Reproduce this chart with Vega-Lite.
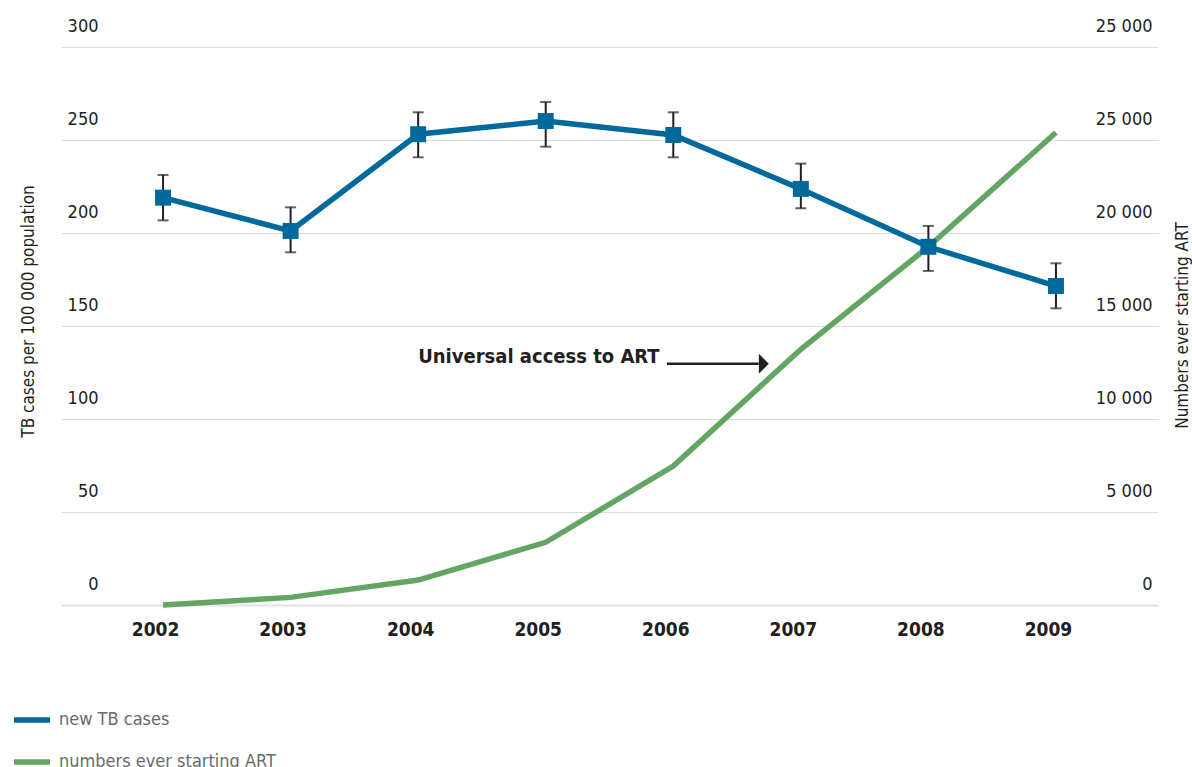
{
  "$schema": "https://vega.github.io/schema/vega-lite/v6.json",
  "width": 1097,
  "height": 558,
  "autosize": {"type": "none"},
  "padding": {"left": 61, "top": 47, "right": 34, "bottom": 162},
  "background": "white",
  "config": {
    "view": {"stroke": null},
    "font": "DejaVu Sans Condensed",
    "axis": {"tickSize": 0, "ticks": false}
  },
  "datasets": {
    "main": [
      {"year": 2002, "tb": 219.0, "lo": 206.8, "hi": 231.2, "art": 0},
      {"year": 2003, "tb": 201.1, "lo": 189.6, "hi": 213.8, "art": 410},
      {"year": 2004, "tb": 253.1, "lo": 240.7, "hi": 264.9, "art": 1340},
      {"year": 2005, "tb": 260.2, "lo": 246.4, "hi": 270.4, "art": 3370},
      {"year": 2006, "tb": 252.7, "lo": 240.7, "hi": 264.9, "art": 7470},
      {"year": 2007, "tb": 223.7, "lo": 213.3, "hi": 237.3, "art": 13750},
      {"year": 2008, "tb": 192.6, "lo": 179.6, "hi": 203.8, "art": 19260},
      {"year": 2009, "tb": 171.5, "lo": 159.5, "hi": 183.7, "art": 25400}
    ]
  },
  "data": {"name": "main"},
  "layer": [
    {
      "mark": {"type": "line", "strokeWidth": 5.5, "strokeCap": "butt"},
      "encoding": {
        "x": {
          "field": "year",
          "type": "quantitative",
          "title": null,
          "scale": {"domain": [2001.2, 2009.8], "nice": false, "zero": false},
          "axis": {
            "title": null,
            "values": [2002, 2003, 2004, 2005, 2006, 2007, 2008, 2009],
            "format": "d",
            "grid": false,
            "ticks": false,
            "domain": true,
            "domainColor": "#e2e2e2",
            "domainWidth": 2,
            "labelFontSize": 19,
            "labelFontWeight": "bold",
            "labelColor": "#231f20",
            "labelPadding": 15,
            "labelOffset": -8,
            "labelBaseline": "top"
          }
        },
        "y": {
          "field": "art",
          "type": "quantitative",
          "scale": {"domain": [0, 30000], "nice": false},
          "axis": {
            "orient": "right",
            "title": "Numbers ever starting ART",
            "values": [0, 5000, 10000, 15000, 20000, 25000, 30000],
            "labelExpr": "datum.value == 30000 ? '25 000' : replace(format(datum.value, ','), ',', ' ')",
            "grid": false,
            "domain": false,
            "ticks": false,
            "tickSize": 0,
            "labelAlign": "right",
            "labelBaseline": "middle",
            "labelPadding": -6,
            "labelOffset": -21,
            "labelFontSize": 18,
            "labelColor": "#231f20",
            "titleFontSize": 17,
            "titleFontWeight": "normal",
            "titleColor": "#231f20",
            "titleAngle": -90,
            "titleX": 24,
            "titleY": 278,
            "titleAlign": "center",
            "titleBaseline": "middle",
            "titleLimit": 500
          }
        },
        "color": {
          "datum": "numbers ever starting ART",
          "scale": {"domain": ["new TB cases", "numbers ever starting ART"], "range": ["#00699B", "#63A563"]},
          "legend": {
            "orient": "none",
            "legendX": -50,
            "legendY": 652,
            "title": null,
            "direction": "vertical",
            "symbolType": "stroke",
            "symbolSize": 1296,
            "symbolStrokeWidth": 5.5,
            "labelFontSize": 18,
            "labelColor": "#6a6a6a",
            "labelOffset": 6,
            "labelLimit": 500,
            "rowPadding": 10
          }
        }
      }
    },
    {
      "encoding": {
        "x": {
          "field": "year",
          "type": "quantitative",
          "title": null,
          "scale": {"domain": [2001.2, 2009.8], "nice": false, "zero": false},
          "axis": {
            "title": null,
            "values": [2002, 2003, 2004, 2005, 2006, 2007, 2008, 2009],
            "format": "d",
            "grid": false,
            "ticks": false,
            "domain": true,
            "domainColor": "#e2e2e2",
            "domainWidth": 2,
            "labelFontSize": 19,
            "labelFontWeight": "bold",
            "labelColor": "#231f20",
            "labelPadding": 15,
            "labelOffset": -8,
            "labelBaseline": "top"
          }
        },
        "y": {
          "field": "tb",
          "type": "quantitative",
          "title": "TB cases per 100 000 population",
          "scale": {"domain": [0, 300], "nice": false},
          "axis": {
            "orient": "left",
            "title": "TB cases per 100 000 population",
            "values": [0, 50, 100, 150, 200, 250, 300],
            "grid": true,
            "gridColor": "#dcdcdc",
            "gridWidth": 1,
            "domain": false,
            "ticks": false,
            "tickSize": 0,
            "labelAlign": "right",
            "labelBaseline": "middle",
            "labelPadding": -37,
            "labelOffset": -21,
            "labelFontSize": 18,
            "labelColor": "#231f20",
            "titleFontSize": 17,
            "titleFontWeight": "normal",
            "titleColor": "#231f20",
            "titleAngle": -90,
            "titleX": -33,
            "titleY": 264,
            "titleAlign": "center",
            "titleBaseline": "middle",
            "titleLimit": 500
          }
        }
      },
      "layer": [
        {
          "mark": {"type": "errorbar", "ticks": {"size": 11, "thickness": 2}, "thickness": 2, "color": "#231f20"},
          "encoding": {
            "y": {"field": "lo", "type": "quantitative", "title": "TB cases per 100 000 population"},
            "y2": {"field": "hi"}
          }
        },
        {
          "mark": {"type": "line", "strokeWidth": 5.5, "strokeCap": "butt"},
          "encoding": {
            "color": {"datum": "new TB cases"}
          }
        },
        {
          "mark": {"type": "point", "shape": "square", "filled": true, "size": 256, "opacity": 1, "color": "#00699B"}
        }
      ]
    },
    {
      "data": {"values": [{"label": "Universal access to ART"}]},
      "mark": {"type": "text", "align": "left", "baseline": "middle", "fontSize": 20, "fontWeight": "bold", "color": "#231f20"},
      "encoding": {
        "x": {"datum": 2004.0, "type": "quantitative"},
        "y": {"datum": 133.3, "type": "quantitative", "scale": {"domain": [0, 300], "nice": false}, "axis": null},
        "text": {"field": "label"}
      }
    },
    {
      "data": {"values": [{"label": "arrow"}]},
      "mark": {"type": "rule", "strokeWidth": 2.5, "color": "#231f20"},
      "encoding": {
        "x": {"datum": 2005.95, "type": "quantitative"},
        "x2": {"datum": 2006.67},
        "y": {"datum": 129.7, "type": "quantitative", "scale": {"domain": [0, 300], "nice": false}, "axis": null}
      }
    },
    {
      "data": {"values": [{"label": "arrowhead"}]},
      "mark": {"type": "point", "shape": "M-0.5,-1L0.5,0L-0.5,1Z", "size": 400, "filled": true, "opacity": 1, "color": "#231f20"},
      "encoding": {
        "x": {"datum": 2006.71, "type": "quantitative"},
        "y": {"datum": 129.7, "type": "quantitative", "scale": {"domain": [0, 300], "nice": false}, "axis": null}
      }
    }
  ],
  "resolve": {"scale": {"y": "independent"}}
}
